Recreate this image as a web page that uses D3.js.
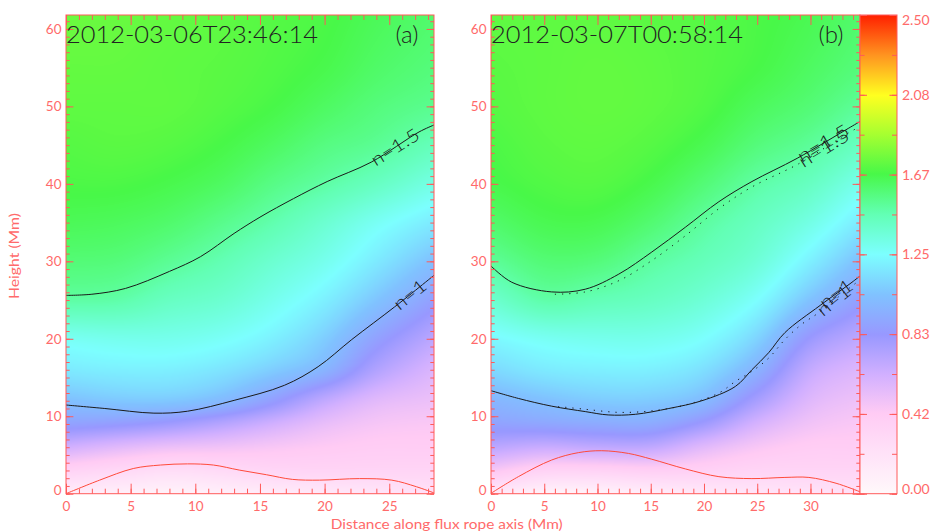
<!DOCTYPE html>
<html><head><meta charset="utf-8">
<script src="https://cdn.jsdelivr.net/npm/d3@7"></script>
<style>
html,body{margin:0;padding:0;background:#fff;}
svg{display:block;}
</style></head>
<body>
<svg id="chart" width="944" height="532"></svg>
<script>
// ================= DATA =================
const titles = ["2012-03-06T23:46:14", "2012-03-07T00:58:14"];
const panelTags = ["(a)", "(b)"];
const xLabel = "Distance along flux rope axis (Mm)";
const yLabel = "Height (Mm)";

// decay-index field, rows = heights (Mm), columns = distance (Mm)
const gridHeights = [0, 3, 6, 9, 12, 16, 20, 25, 30, 35, 40, 45, 50, 55, 62];
const gridXA = [0, 4, 8, 12, 16, 20, 24, 28.46];
const gridNA = [
  [0.10, 0.08, 0.05, 0.08, 0.12, 0.15, 0.18, 0.22],
  [0.35, 0.30, 0.25, 0.28, 0.32, 0.33, 0.33, 0.33],
  [0.62, 0.55, 0.50, 0.48, 0.45, 0.42, 0.40, 0.40],
  [0.88, 0.85, 0.80, 0.72, 0.62, 0.52, 0.46, 0.44],
  [1.03, 1.06, 1.06, 1.00, 0.86, 0.68, 0.55, 0.50],
  [1.18, 1.20, 1.20, 1.16, 1.08, 0.97, 0.74, 0.58],
  [1.28, 1.30, 1.30, 1.27, 1.20, 1.08, 0.88, 0.70],
  [1.49, 1.48, 1.42, 1.38, 1.30, 1.20, 1.05, 0.87],
  [1.58, 1.57, 1.52, 1.46, 1.38, 1.30, 1.18, 1.03],
  [1.64, 1.63, 1.60, 1.54, 1.47, 1.38, 1.28, 1.18],
  [1.68, 1.68, 1.66, 1.62, 1.55, 1.49, 1.42, 1.32],
  [1.70, 1.71, 1.70, 1.67, 1.62, 1.56, 1.52, 1.44],
  [1.72, 1.72, 1.72, 1.70, 1.67, 1.62, 1.57, 1.53],
  [1.73, 1.73, 1.72, 1.71, 1.69, 1.66, 1.61, 1.57],
  [1.75, 1.74, 1.73, 1.72, 1.70, 1.68, 1.64, 1.60]
];
const gridXB = [0, 5, 10, 15, 20, 25, 30, 34.65];
const gridNB = [
  [0.15, 0.05, 0.05, 0.10, 0.15, 0.18, 0.20, 0.22],
  [0.45, 0.35, 0.35, 0.38, 0.36, 0.33, 0.33, 0.33],
  [0.70, 0.65, 0.68, 0.68, 0.55, 0.45, 0.40, 0.40],
  [0.88, 0.90, 0.92, 0.92, 0.80, 0.60, 0.48, 0.44],
  [0.98, 1.03, 1.07, 1.07, 1.00, 0.77, 0.56, 0.49],
  [1.12, 1.18, 1.20, 1.20, 1.14, 0.96, 0.67, 0.57],
  [1.23, 1.28, 1.30, 1.30, 1.25, 1.10, 0.82, 0.69],
  [1.38, 1.48, 1.45, 1.42, 1.36, 1.25, 1.04, 0.87],
  [1.51, 1.58, 1.57, 1.50, 1.44, 1.36, 1.20, 1.03],
  [1.60, 1.65, 1.65, 1.59, 1.50, 1.42, 1.32, 1.18],
  [1.66, 1.69, 1.70, 1.66, 1.58, 1.49, 1.42, 1.30],
  [1.68, 1.71, 1.72, 1.70, 1.65, 1.57, 1.51, 1.42],
  [1.70, 1.72, 1.73, 1.72, 1.69, 1.63, 1.58, 1.51],
  [1.71, 1.72, 1.73, 1.72, 1.70, 1.67, 1.62, 1.57],
  [1.72, 1.72, 1.72, 1.71, 1.70, 1.68, 1.65, 1.60]
];

// contour n=1.5 and n=1 (panel a)
const n15A_x = [0, 2, 4.6, 8.0, 10.4, 13.0, 15.0, 17.6, 20.2, 23.6, 27.3, 28.46];
const n15A_h = [25.6, 25.75, 26.5, 28.7, 30.6, 33.6, 35.7, 38.1, 40.3, 42.8, 46.7, 47.6];
const n15A_gap = [23.6, 27.3];
const n10A_x = [0, 3, 6.8, 9.4, 13, 16.9, 19.5, 22.1, 25.4, 27.8, 28.46];
const n10A_h = [11.45, 11.0, 10.4, 10.65, 12.05, 14.0, 16.4, 19.9, 24.1, 27.3, 28.2];
const n10A_gap = [25.4, 27.8];
const redA_x = [0, 2.6, 5.2, 7.3, 9.4, 11.4, 13.4, 15.5, 17.5, 19.6, 22.7, 25.2, 27.1, 28.46];
const redA_h = [0, 1.75, 3.25, 3.7, 3.85, 3.7, 3.05, 2.45, 1.85, 1.75, 1.95, 1.75, 0.9, 0.1];

// contours panel b (solid = current, dotted = comparison)
const n15B_x = [0, 1.95, 5.7, 8.85, 12, 15.1, 18.25, 21.4, 24.5, 28.75, 33.6, 34.65];
const n15B_h = [29.4, 27.3, 26.05, 26.4, 28.35, 31.2, 34.4, 37.7, 40.3, 43.3, 47.2, 48.05];
const n15B_gap = [28.75, 33.6];
const n15Bd_x = [6.0, 8.85, 12, 15.1, 18.25, 21.4, 24.5, 28.9, 33.6, 34.65];
const n15Bd_h = [25.75, 26.05, 27.5, 30.1, 33.3, 36.8, 39.6, 42.6, 46.6, 47.4];
const n15Bd_gap = [28.9, 33.6];
const n10B_x = [0, 2.57, 5.7, 8.85, 11, 13.55, 16.7, 19.8, 22.95, 24.5, 26.07, 27.6, 30.9, 33.9, 34.65];
const n10B_h = [13.3, 12.3, 11.3, 10.6, 10.17, 10.25, 11.0, 12.0, 13.85, 16.0, 18.2, 20.8, 24.3, 27.3, 28.1];
const n10B_gap = [30.9, 33.9];
const n10Bd_x = [6.3, 8.85, 12, 15.1, 18.25, 21.4, 22.95, 24.5, 26.07, 27.6, 29.2, 30.7, 33.7, 34.65];
const n10Bd_h = [11.25, 10.9, 10.5, 10.7, 11.45, 13.0, 14.5, 15.8, 17.5, 19.9, 21.9, 23.3, 26.6, 27.6];
const n10Bd_gap = [30.7, 33.7];
const redB_x = [0, 2.57, 5.7, 8.2, 10.4, 12.9, 15.1, 18.25, 21.4, 24.5, 27.6, 29.85, 32.4, 34.65];
const redB_h = [0.05, 2.2, 4.35, 5.3, 5.55, 5.2, 4.45, 3.2, 2.2, 1.95, 2.1, 2.1, 1.35, 0.25];

// colour bar
const cbStopValues = [0, 0.21, 0.42, 0.62, 0.83, 1.04, 1.25, 1.46, 1.67, 1.88, 2.08, 2.29, 2.5];
const cbStopColors = ["#fff8fa", "#ffe2f8", "#ffcbf4", "#d2b0ff", "#9898ff", "#80c2ff", "#7cffff",
                      "#62ffb4", "#48f848", "#a8ff30", "#ffff20", "#ff9420", "#ff2000"];
const cbTickValues = [0, 2.5/6, 5/6, 1.25, 10/6, 12.5/6, 2.5];

// ================= DRAWING =================
const svg = d3.select("#chart");
const axisCol = "#ff5a5a", textCol = "#ff6a6a";
const plotTop = 15, plotBottom = 493.7, yMax = 61.8;
const FONT = "Lato, 'Liberation Sans', sans-serif";

const color = d3.scaleLinear().domain(cbStopValues).range(cbStopColors)
  .interpolate(d3.interpolateRgb).clamp(true);
const LUT = d3.range(0, 1001).map(i => d3.rgb(color(i / 1000 * 2.5)));

const panels = [
  {x0: 66, x1: 434, xmax: 28.46, gx: gridXA, gn: gridNA, title: titles[0], tag: panelTags[0], tagEnd: 418.5,
   lines: [
     {x: n15A_x, h: n15A_h, gap: n15A_gap, label: "n=1.5", dash: null},
     {x: n10A_x, h: n10A_h, gap: n10A_gap, label: "n=1", dash: null}],
   red: [redA_x, redA_h]},
  {x0: 491, x1: 860, xmax: 34.65, gx: gridXB, gn: gridNB, title: titles[1], tag: panelTags[1], tagEnd: 843.5,
   lines: [
     {x: n15B_x, h: n15B_h, gap: n15B_gap, label: "n=1.5", dash: null},
     {x: n15Bd_x, h: n15Bd_h, gap: n15Bd_gap, label: "n=1.5", dash: "1.2,6"},
     {x: n10B_x, h: n10B_h, gap: n10B_gap, label: "n=1", dash: null},
     {x: n10Bd_x, h: n10Bd_h, gap: n10Bd_gap, label: "n=1", dash: "1.2,6"}],
   red: [redB_x, redB_h]}
];

// smooth cubic Hermite interpolation through knots (rendering only)
function hermite(knots, vals, t) {
  const n = knots.length;
  let i = Math.max(0, Math.min(n - 2, d3.bisectRight(knots, t) - 1));
  const x0 = knots[i], x1 = knots[i+1], hgt = x1 - x0;
  const s = Math.max(0, Math.min(1, (t - x0) / hgt));
  const slope = k => {
    if (k === 0) return (vals[1] - vals[0]) / (knots[1] - knots[0]);
    if (k === n - 1) return (vals[n-1] - vals[n-2]) / (knots[n-1] - knots[n-2]);
    return (vals[k+1] - vals[k-1]) / (knots[k+1] - knots[k-1]);
  };
  const m0 = slope(i) * hgt, m1 = slope(i+1) * hgt;
  const s2 = s * s, s3 = s2 * s;
  return (2*s3 - 3*s2 + 1) * vals[i] + (s3 - 2*s2 + s) * m0 + (-2*s3 + 3*s2) * vals[i+1] + (s3 - s2) * m1;
}

panels.forEach(p => {
  const xs = d3.scaleLinear().domain([0, p.xmax]).range([p.x0, p.x1]);
  const ys = d3.scaleLinear().domain([0, yMax]).range([plotBottom, plotTop]);
  const g = svg.append("g");

  // field raster
  const w = Math.round(p.x1 - p.x0), h = Math.round(plotBottom - plotTop);
  const cv = document.createElement("canvas"); cv.width = w; cv.height = h;
  const ctx = cv.getContext("2d"); const img = ctx.createImageData(w, h);
  for (let ii = 0; ii < w; ii++) {
    const xv = xs.invert(p.x0 + (ii + 0.5) * (p.x1 - p.x0) / w);
    const col = p.gn.map(row => hermite(p.gx, row, xv));
    for (let jj = 0; jj < h; jj++) {
      const hv = ys.invert(plotTop + (jj + 0.5) * (plotBottom - plotTop) / h);
      const v = hermite(gridHeights, col, hv);
      const c = LUT[Math.max(0, Math.min(1000, Math.round(v / 2.5 * 1000)))];
      const k = (jj * w + ii) * 4;
      img.data[k] = c.r; img.data[k+1] = c.g; img.data[k+2] = c.b; img.data[k+3] = 255;
    }
  }
  ctx.putImageData(img, 0, 0);
  g.append("image").attr("x", p.x0).attr("y", plotTop).attr("width", p.x1 - p.x0).attr("height", plotBottom - plotTop)
    .attr("preserveAspectRatio", "none").attr("href", cv.toDataURL());

  // contour lines
  p.lines.forEach(L => {
    const pts = L.x.map((xv, i) => [xv, L.h[i]]);
    const line = d3.line().x(d => xs(d[0])).y(d => ys(d[1]))
      .defined(d => d[0] <= L.gap[0] || d[0] >= L.gap[1]).curve(d3.curveCatmullRom.alpha(0.5));
    g.append("path").attr("d", line(pts)).attr("fill", "none").attr("stroke", "#1a1a1a")
      .attr("stroke-width", 1).attr("stroke-dasharray", L.dash);
    const i0 = L.x.indexOf(L.gap[0]), i1 = L.x.indexOf(L.gap[1]);
    const ax = xs(L.x[i0]), ay = ys(L.h[i0]), bx = xs(L.x[i1]), by = ys(L.h[i1]);
    const ang = Math.atan2(by - ay, bx - ax) * 180 / Math.PI;
    const len = Math.hypot(bx - ax, by - ay);
    g.append("text").attr("transform", `translate(${(ax+bx)/2},${(ay+by)/2}) rotate(${ang})`)
      .attr("text-anchor", "middle").attr("dy", "0.35em")
      .attr("font-family", FONT).attr("font-weight", 300)
      .attr("font-size", 18).attr("fill", "#1a1a1a")
      .attr("textLength", len - 3).attr("lengthAdjust", "spacingAndGlyphs")
      .text(L.label);
  });

  // red line
  const redPts = p.red[0].map((xv, i) => [xv, p.red[1][i]]);
  g.append("path").attr("d", d3.line().x(d => xs(d[0])).y(d => ys(d[1])).curve(d3.curveCatmullRom.alpha(0.5))(redPts))
    .attr("fill", "none").attr("stroke", "#ff4a3a").attr("stroke-width", 1);

  // frame
  g.append("rect").attr("x", p.x0).attr("y", plotTop).attr("width", p.x1 - p.x0).attr("height", plotBottom - plotTop)
    .attr("fill", "none").attr("stroke", axisCol).attr("stroke-width", 1);

  // axes ticks
  const xMaj = d3.range(0, p.xmax + 1e-9, 5), xMin = d3.range(0, p.xmax + 1e-9, 1);
  const yMaj = d3.range(0, yMax, 10), yMin = d3.range(0, yMax, 1);
  const styleAxis = sel => { sel.select(".domain").remove(); sel.selectAll("line").attr("stroke", axisCol);
    sel.selectAll("text").attr("fill", textCol).attr("font-family", FONT).attr("font-size", 13.5); };
  g.append("g").attr("transform", `translate(0,${plotBottom})`)
    .call(d3.axisBottom(xs).tickValues(xMaj).tickSize(-10).tickPadding(8).tickFormat(d3.format("d"))).call(styleAxis);
  g.append("g").attr("transform", `translate(0,${plotBottom})`)
    .call(d3.axisBottom(xs).tickValues(xMin).tickSize(-5).tickFormat("")).call(styleAxis);
  g.append("g").attr("transform", `translate(0,${plotTop})`)
    .call(d3.axisTop(xs).tickValues(xMaj).tickSize(-10).tickFormat("")).call(styleAxis);
  g.append("g").attr("transform", `translate(0,${plotTop})`)
    .call(d3.axisTop(xs).tickValues(xMin).tickSize(-5).tickFormat("")).call(styleAxis);
  const yl = g.append("g").attr("transform", `translate(${p.x0},0)`)
    .call(d3.axisLeft(ys).tickValues(yMaj).tickSize(-7.4).tickPadding(4.5).tickFormat(d3.format("d"))).call(styleAxis);
  yl.selectAll(".tick text").filter(d => d === 0).attr("dy", "0.05em");
  g.append("g").attr("transform", `translate(${p.x0},0)`)
    .call(d3.axisLeft(ys).tickValues(yMin).tickSize(-3.7).tickFormat("")).call(styleAxis);
  g.append("g").attr("transform", `translate(${p.x1},0)`)
    .call(d3.axisRight(ys).tickValues(yMaj).tickSize(-7.4).tickFormat("")).call(styleAxis);
  g.append("g").attr("transform", `translate(${p.x1},0)`)
    .call(d3.axisRight(ys).tickValues(yMin).tickSize(-3.7).tickFormat("")).call(styleAxis);

  // title and tag
  g.append("text").attr("x", p.x0).attr("y", 43.3).attr("font-family", FONT)
    .attr("font-weight", 300).attr("font-size", 23).attr("fill", "#222")
    .attr("textLength", 252).attr("lengthAdjust", "spacingAndGlyphs").text(p.title);
  g.append("text").attr("x", p.tagEnd).attr("y", 43.3).attr("text-anchor", "end")
    .attr("font-family", FONT).attr("font-weight", 300)
    .attr("font-size", 24).attr("fill", "#222").text(p.tag);
});

// colour bar
const cbX0 = 860, cbX1 = 897;
const cbScale = d3.scaleLinear().domain([0, 2.5]).range([plotBottom, plotTop]);
const grad = svg.append("defs").append("linearGradient").attr("id", "cbgrad")
  .attr("x1", 0).attr("y1", 1).attr("x2", 0).attr("y2", 0);
cbStopValues.forEach((v, i) => grad.append("stop").attr("offset", v / 2.5).attr("stop-color", cbStopColors[i]));
svg.append("rect").attr("x", cbX0).attr("y", plotTop).attr("width", cbX1 - cbX0).attr("height", plotBottom - plotTop)
  .attr("fill", "url(#cbgrad)").attr("stroke", axisCol).attr("stroke-width", 1);
const cbMinor = d3.range(0, 13).map(i => i * 2.5 / 12);
const cbStyle = sel => { sel.select(".domain").remove(); sel.selectAll("line").attr("stroke", axisCol);
  sel.selectAll("text").attr("fill", textCol).attr("font-family", FONT).attr("font-size", 14); };
const cbr = svg.append("g").attr("transform", `translate(${cbX1},0)`)
  .call(d3.axisRight(cbScale).tickValues(cbTickValues).tickSize(-7.5).tickPadding(5).tickFormat(d3.format(".2f"))).call(cbStyle);
cbr.selectAll(".tick text").filter(d => d === 0).attr("dy", "0.0em");
cbr.selectAll(".tick text").filter(d => d === 2.5).attr("dy", "0.7em");
svg.append("g").attr("transform", `translate(${cbX1},0)`)
  .call(d3.axisRight(cbScale).tickValues(cbMinor).tickSize(-5).tickFormat("")).call(cbStyle);
svg.append("g").attr("transform", `translate(${cbX0},0)`)
  .call(d3.axisLeft(cbScale).tickValues(cbTickValues).tickSize(-7).tickFormat("")).call(cbStyle);
svg.append("g").attr("transform", `translate(${cbX0},0)`)
  .call(d3.axisLeft(cbScale).tickValues(cbMinor).tickSize(-4.5).tickFormat("")).call(cbStyle);

// axis titles
svg.append("text").attr("x", 446.7).attr("y", 528.5).attr("text-anchor", "middle")
  .attr("font-family", FONT).attr("font-size", 14).attr("fill", textCol)
  .attr("textLength", 232).attr("lengthAdjust", "spacingAndGlyphs").text(xLabel);
svg.append("text").attr("transform", "translate(19,256) rotate(-90)").attr("text-anchor", "middle")
  .attr("font-family", FONT).attr("font-size", 14).attr("fill", textCol)
  .attr("textLength", 86).attr("lengthAdjust", "spacingAndGlyphs").text(yLabel);
</script>
</body></html>
